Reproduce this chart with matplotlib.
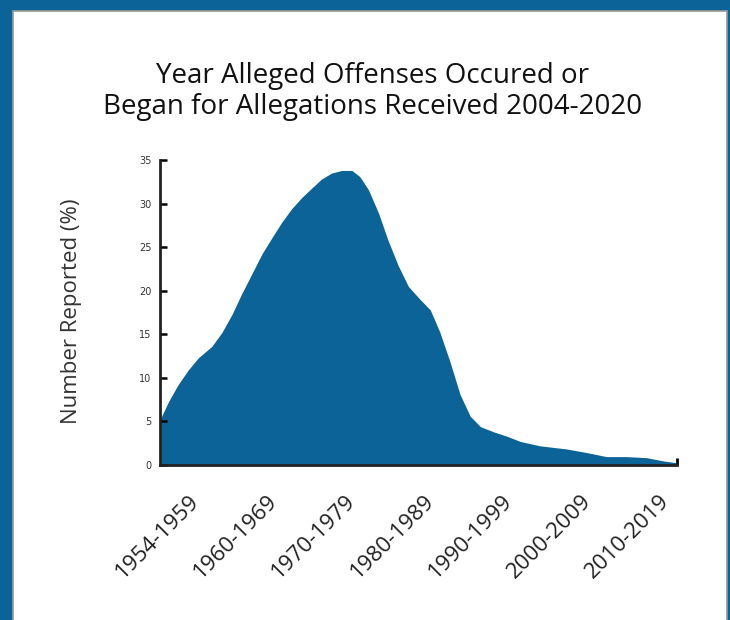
import matplotlib.pyplot as plt
from matplotlib.patches import Rectangle

# curve (year, percent)
years = [1954, 1955.1, 1956.3, 1957.6, 1958.9, 1960.6, 1961.9, 1963.2, 1964.4,
         1965.7, 1967.0, 1968.3, 1969.5, 1970.8, 1972.1, 1973.4, 1974.6, 1975.9,
         1977.2, 1978.5, 1979.5, 1980.6, 1981.9, 1983.1, 1984.4, 1985.7, 1987.2,
         1988.5, 1989.7, 1991.0, 1992.3, 1993.6, 1994.9, 1996.6, 1998.3, 2000.0,
         2002.5, 2005.9, 2008.5, 2011.0, 2013.6, 2016.1, 2018.3, 2020]
pct = [5.2, 7.3, 9.2, 10.9, 12.3, 13.6, 15.2, 17.3, 19.6,
       21.9, 24.2, 26.1, 27.8, 29.4, 30.7, 31.8, 32.8, 33.5,
       33.8, 33.8, 33.1, 31.6, 28.9, 25.8, 22.9, 20.5, 19.0,
       17.8, 15.3, 11.9, 8.1, 5.6, 4.4, 3.8, 3.3, 2.7,
       2.2, 1.84, 1.42, 0.96, 0.96, 0.84, 0.46, 0.25]

labels = ['1954-1959', '1960-1969', '1970-1979', '1980-1989',
          '1990-1999', '2000-2009', '2010-2019']
label_pos = [1958.6, 1968.6, 1978.6, 1988.6, 1998.6, 2008.6, 2018.6]

blue = '#0b6397'

fig = plt.figure(figsize=(7.3, 6.2), dpi=100)
# frame: blue on top and left
fig.patches.append(Rectangle((0, 0), 1, 1, transform=fig.transFigure,
                             facecolor=blue, edgecolor='none', zorder=-10))
fig.patches.append(Rectangle((13 / 730, -0.01), 714 / 730, 1 - 11 / 620 + 0.01,
                             transform=fig.transFigure, facecolor='white',
                             edgecolor='#9a9a9a', linewidth=1.2, zorder=-9))

ax = fig.add_axes([160 / 730, 1 - 465 / 620, 517 / 730, 305 / 620])
ax.fill_between(years, pct, 0, color=blue, linewidth=0)
ax.set_xlim(1954, 2020)
ax.set_ylim(0, 35)

for s in ['top', 'right']:
    ax.spines[s].set_visible(False)
for s in ['left', 'bottom']:
    ax.spines[s].set_linewidth(2)
    ax.spines[s].set_color('#222222')

ax.set_yticks(range(0, 36, 5))
ax.tick_params(axis='y', direction='in', length=5, width=1.8, labelsize=7,
               labelcolor='#333333', pad=6)
ax.set_xticks(label_pos)
ax.set_xticklabels(labels, rotation=45, ha='right', va='center',
                   rotation_mode='anchor', fontsize=16, fontfamily='Open Sans',
                   color='#222222')
ax.tick_params(axis='x', length=0, pad=24)
ax.set_xticks([2020], minor=True)
ax.tick_params(axis='x', which='minor', direction='in', length=5, width=2)

ax.set_ylabel('Number Reported (%)', fontsize=16, fontfamily='Open Sans',
              color='#333333')
ax.yaxis.set_label_coords(-0.15, 0.505)

fig.text(0.51, 0.853, 'Year Alleged Offenses Occured or\nBegan for Allegations Received 2004-2020',
         ha='center', va='center', fontsize=20, fontfamily='Open Sans',
         color='#111111', linespacing=1.15)

fig.savefig('out.png', dpi=100)
